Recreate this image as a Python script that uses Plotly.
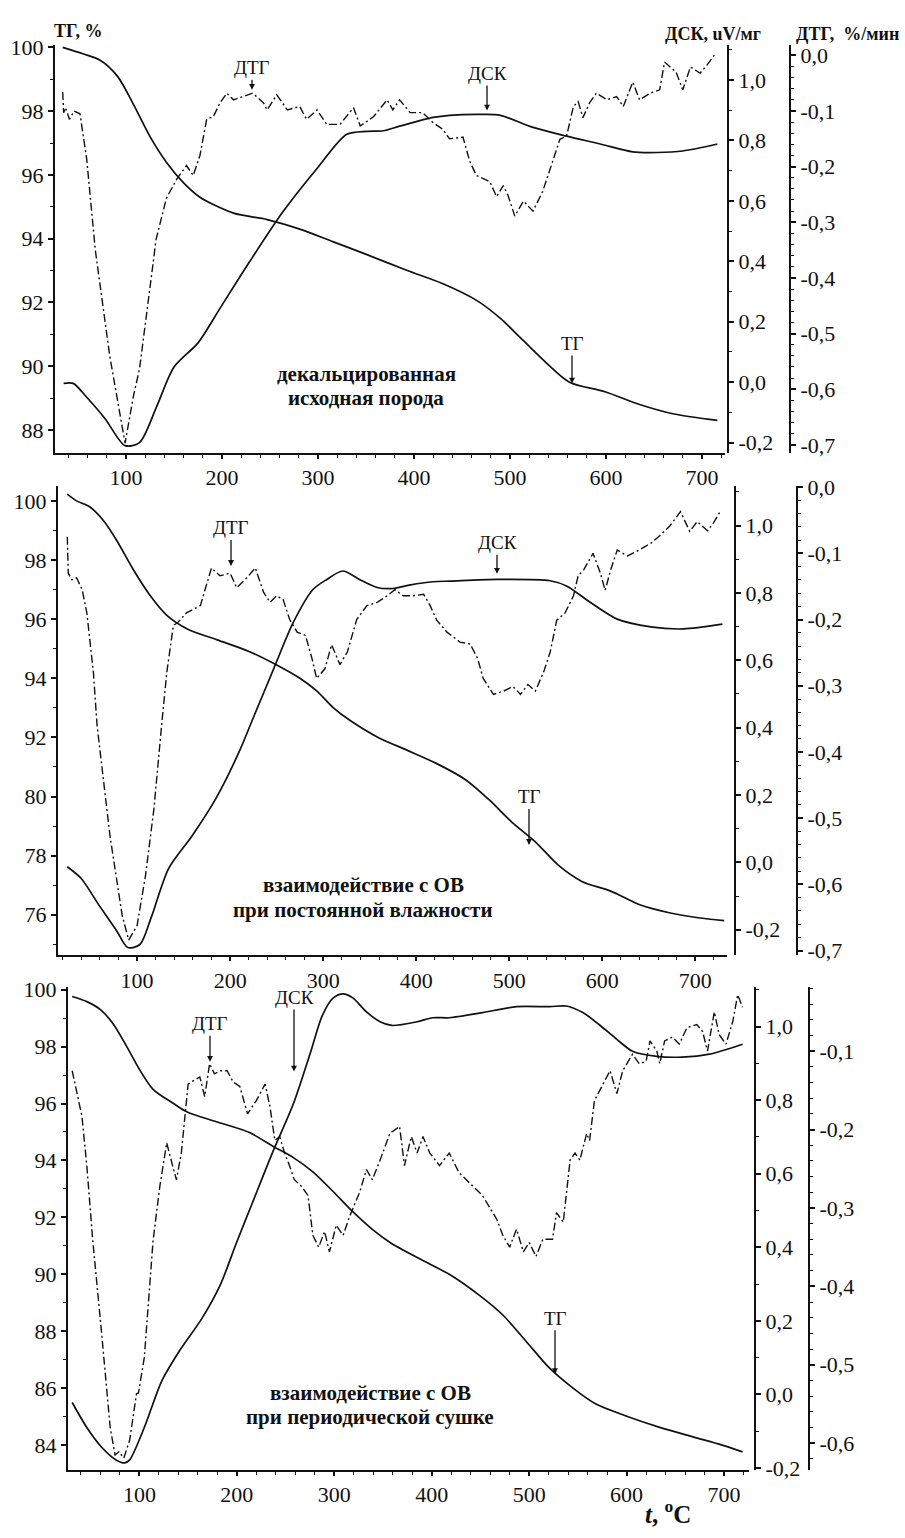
import plotly.graph_objects as go

W, H = 905, 1538

# ---------------- data (temperature, °C) ----------------
x_ticks = [100, 200, 300, 400, 500, 600, 700]
x_ticktext = ["100", "200", "300", "400", "500", "600", "700"]

tg1_ticks = [100, 98, 96, 94, 92, 90, 88]
tg1_ticktext = ["100", "98", "96", "94", "92", "90", "88"]
tg2_ticks = [100, 98, 96, 94, 92, 90, 88, 86]
tg2_ticktext = ["100", "98", "96", "94", "92", "80", "78", "76"]
tg3_ticks = [100, 98, 96, 94, 92, 90, 88, 86, 84]
tg3_ticktext = ["100", "98", "96", "94", "92", "90", "88", "86", "84"]

dsc_ticks = [-0.2, 0.0, 0.2, 0.4, 0.6, 0.8, 1.0]
dsc_ticktext = ["-0,2", "0,0", "0,2", "0,4", "0,6", "0,8", "1,0"]
dtg12_ticks = [0.0, -0.1, -0.2, -0.3, -0.4, -0.5, -0.6, -0.7]
dtg12_ticktext = ["0,0", "-0,1", "-0,2", "-0,3", "-0,4", "-0,5", "-0,6", "-0,7"]
dtg3_ticks = [-0.1, -0.2, -0.3, -0.4, -0.5, -0.6]
dtg3_ticktext = ["-0,1", "-0,2", "-0,3", "-0,4", "-0,5", "-0,6"]

# Panel 1: декальцированная исходная порода
p1_tg_t = [34, 55, 73, 91, 108, 125, 142, 160, 177, 212, 247, 281, 316, 351, 393, 429, 466, 490, 514, 538, 562, 599, 635, 671, 716]
p1_tg = [100.0, 99.8, 99.6, 99.1, 98.2, 97.2, 96.4, 95.75, 95.3, 94.8, 94.6, 94.3, 93.9, 93.5, 93.0, 92.6, 92.05, 91.5, 90.8, 90.1, 89.5, 89.2, 88.8, 88.5, 88.3]
p1_dsc_t = [35, 45, 59, 78, 99, 114, 132, 150, 175, 199, 229, 264, 299, 330, 351, 368, 385, 420, 437, 472, 490, 524, 559, 594, 628, 653, 680, 716]
p1_dsc = [-0.004, -0.004, -0.05, -0.12, -0.21, -0.20, -0.08, 0.05, 0.13, 0.25, 0.40, 0.566, 0.707, 0.82, 0.83, 0.832, 0.847, 0.876, 0.883, 0.886, 0.883, 0.843, 0.814, 0.788, 0.762, 0.76, 0.765, 0.788]
p1_dtg_t = [34, 35, 37, 41, 46, 52, 59, 68, 83, 99, 108, 114, 129, 131, 142, 153, 163, 170, 177, 184, 191, 198, 205, 212, 222, 232, 243, 247, 257, 268, 281, 288, 299, 309, 323, 337, 344, 358, 372, 378, 385, 396, 409, 420, 430, 437, 451, 458, 465, 479, 486, 493, 498, 505, 514, 524, 534, 545, 552, 559, 566, 571, 576, 583, 590, 601, 611, 618, 628, 635, 646, 656, 661, 673, 680, 688, 698, 705, 714]
p1_dtg = [-0.066, -0.103, -0.094, -0.115, -0.100, -0.105, -0.186, -0.35, -0.54, -0.697, -0.61, -0.564, -0.363, -0.333, -0.257, -0.222, -0.198, -0.216, -0.18, -0.115, -0.11, -0.085, -0.068, -0.08, -0.074, -0.068, -0.085, -0.098, -0.071, -0.098, -0.092, -0.115, -0.098, -0.124, -0.124, -0.094, -0.127, -0.11, -0.08, -0.098, -0.08, -0.103, -0.103, -0.121, -0.133, -0.15, -0.147, -0.19, -0.216, -0.227, -0.254, -0.234, -0.252, -0.289, -0.262, -0.28, -0.245, -0.186, -0.151, -0.145, -0.092, -0.083, -0.112, -0.085, -0.068, -0.08, -0.074, -0.092, -0.048, -0.08, -0.068, -0.062, -0.012, -0.03, -0.062, -0.021, -0.032, -0.018, 0.003]

# Panel 2: взаимодействие с ОВ при постоянной влажности
p2_tg_t = [25, 35, 49, 64, 78, 96, 114, 132, 154, 186, 221, 247, 275, 293, 311, 329, 359, 390, 421, 453, 478, 503, 528, 553, 578, 609, 641, 672, 703, 731]
p2_tg = [100.23, 100.0, 99.8, 99.33, 98.67, 97.67, 96.8, 96.13, 95.67, 95.3, 94.9, 94.5, 94.0, 93.57, 93.0, 92.57, 92.0, 91.57, 91.13, 90.57, 89.9, 89.13, 88.47, 87.67, 87.13, 86.8, 86.33, 86.07, 85.9, 85.8]
p2_dsc_t = [25, 40, 59, 78, 90, 103, 115, 134, 159, 184, 209, 225, 247, 268, 289, 304, 321, 339, 358, 375, 394, 418, 437, 487, 544, 562, 587, 616, 652, 687, 729]
p2_dsc = [-0.013, -0.048, -0.127, -0.203, -0.253, -0.244, -0.165, -0.018, 0.078, 0.186, 0.324, 0.43, 0.576, 0.713, 0.81, 0.84, 0.865, 0.84, 0.816, 0.813, 0.824, 0.833, 0.835, 0.84, 0.836, 0.82, 0.772, 0.722, 0.699, 0.693, 0.707]
p2_dtg_t = [25, 26, 30, 35, 41, 46, 53, 57, 71, 84, 91, 100, 109, 118, 127, 132, 139, 144, 153, 160, 168, 173, 180, 189, 200, 207, 218, 227, 236, 243, 250, 257, 264, 272, 281, 288, 293, 302, 309, 318, 326, 336, 347, 358, 369, 377, 386, 397, 408, 415, 422, 433, 447, 458, 466, 472, 483, 494, 504, 512, 520, 528, 537, 544, 551, 560, 569, 574, 580, 590, 598, 603, 609, 616, 627, 637, 652, 662, 673, 684, 694, 702, 713, 719, 727]
p2_dtg = [-0.075, -0.13, -0.14, -0.137, -0.155, -0.19, -0.279, -0.36, -0.528, -0.647, -0.684, -0.662, -0.587, -0.487, -0.35, -0.279, -0.209, -0.204, -0.19, -0.185, -0.179, -0.155, -0.122, -0.134, -0.13, -0.152, -0.137, -0.122, -0.159, -0.174, -0.164, -0.17, -0.2, -0.219, -0.224, -0.259, -0.289, -0.274, -0.238, -0.268, -0.249, -0.2, -0.179, -0.174, -0.164, -0.155, -0.164, -0.164, -0.162, -0.179, -0.201, -0.219, -0.234, -0.237, -0.259, -0.289, -0.313, -0.308, -0.301, -0.313, -0.298, -0.308, -0.279, -0.249, -0.201, -0.19, -0.164, -0.134, -0.125, -0.1, -0.13, -0.156, -0.125, -0.095, -0.104, -0.097, -0.085, -0.073, -0.058, -0.037, -0.067, -0.052, -0.066, -0.055, -0.036]

# Panel 3: взаимодействие с ОВ при периодической сушке
p3_tg_t = [31, 46, 60, 73, 87, 100, 114, 135, 149, 179, 213, 237, 258, 278, 299, 319, 340, 358, 390, 420, 449, 473, 497, 521, 545, 568, 598, 634, 669, 698, 719]
p3_tg = [99.76, 99.58, 99.3, 98.8, 98.0, 97.2, 96.5, 96.0, 95.7, 95.36, 94.98, 94.5, 94.1, 93.6, 92.9, 92.2, 91.55, 91.1, 90.5, 89.96, 89.26, 88.57, 87.64, 86.7, 86.0, 85.45, 85.04, 84.62, 84.28, 84.0, 83.76]
p3_dsc_t = [31, 46, 61, 76, 85, 90, 105, 123, 141, 164, 183, 200, 216, 237, 258, 275, 288, 299, 309, 319, 333, 347, 359, 385, 401, 418, 452, 487, 521, 538, 555, 572, 590, 606, 631, 657, 685, 719]
p3_dsc = [-0.022, -0.09, -0.143, -0.178, -0.186, -0.178, -0.09, 0.037, 0.118, 0.206, 0.298, 0.415, 0.521, 0.66, 0.79, 0.925, 1.032, 1.078, 1.089, 1.078, 1.04, 1.013, 1.003, 1.013, 1.024, 1.024, 1.038, 1.054, 1.054, 1.056, 1.038, 1.005, 0.965, 0.933, 0.919, 0.917, 0.925, 0.952]
p3_dtg_t = [31, 36, 41, 46, 52, 61, 70, 75, 79, 84, 90, 97, 99, 105, 114, 121, 128, 134, 138, 143, 150, 155, 162, 167, 172, 177, 183, 190, 196, 203, 211, 220, 229, 234, 239, 244, 249, 254, 259, 266, 273, 278, 284, 290, 295, 302, 309, 316, 326, 333, 339, 347, 357, 367, 372, 379, 385, 391, 398, 408, 418, 428, 439, 452, 467, 473, 480, 487, 494, 500, 507, 514, 524, 528, 535, 538, 542, 547, 552, 559, 562, 567, 576, 583, 590, 596, 606, 613, 620, 624, 631, 634, 639, 647, 654, 662, 672, 678, 683, 690, 695, 702, 709, 714, 719]
p3_dtg = [-0.125, -0.154, -0.183, -0.246, -0.34, -0.457, -0.58, -0.615, -0.611, -0.619, -0.596, -0.537, -0.536, -0.491, -0.342, -0.272, -0.217, -0.246, -0.264, -0.23, -0.142, -0.138, -0.133, -0.158, -0.116, -0.129, -0.125, -0.125, -0.139, -0.145, -0.18, -0.163, -0.142, -0.171, -0.214, -0.209, -0.23, -0.246, -0.264, -0.272, -0.284, -0.335, -0.35, -0.33, -0.356, -0.322, -0.335, -0.31, -0.28, -0.251, -0.264, -0.239, -0.205, -0.196, -0.246, -0.209, -0.23, -0.209, -0.23, -0.246, -0.23, -0.255, -0.268, -0.284, -0.315, -0.335, -0.35, -0.327, -0.356, -0.344, -0.362, -0.34, -0.34, -0.306, -0.318, -0.28, -0.239, -0.23, -0.239, -0.205, -0.214, -0.163, -0.142, -0.125, -0.154, -0.125, -0.104, -0.116, -0.113, -0.087, -0.1, -0.116, -0.087, -0.082, -0.091, -0.07, -0.066, -0.075, -0.1, -0.05, -0.079, -0.091, -0.062, -0.028, -0.044]

# ---------------- figure ----------------
FONT = "Liberation Serif, Times New Roman, serif"
BLACK = "#111111"


def fx(x):
    return x / W


def fy(y):
    return 1 - y / H


panels = [
    dict(xl=55, xr=725, yt=35, yb=448, dsc_x=728, dtg_x=790,
         xrange=[26, 724], tg_range=[87.29, 100.06], dsc_range=[-0.233, 1.114], dtg_range=[-0.714, 0.0177],
         tg_ticks=tg1_ticks, tg_text=tg1_ticktext, dtg_ticks=dtg12_ticks, dtg_text=dtg12_ticktext,
         t=(p1_tg_t, p1_tg), d=(p1_dsc_t, p1_dsc), g=(p1_dtg_t, p1_dtg)),
    dict(xl=58, xr=727, yt=482, yb=958, dsc_x=735, dtg_x=797,
         xrange=[15, 734], tg_range=[84.63, 100.5], dsc_range=[-0.276, 1.117], dtg_range=[-0.707, 0.0015],
         tg_ticks=tg2_ticks, tg_text=tg2_ticktext, dtg_ticks=dtg12_ticks, dtg_text=dtg12_ticktext,
         t=(p2_tg_t, p2_tg), d=(p2_dsc_t, p2_dsc), g=(p2_dtg_t, p2_dtg)),
    dict(xl=68, xr=749, yt=990, yb=1480, dsc_x=755, dtg_x=809,
         xrange=[26.7, 725.6], tg_range=[83.13, 100.1], dsc_range=[-0.205, 1.108], dtg_range=[-0.634, -0.018],
         tg_ticks=tg3_ticks, tg_text=tg3_ticktext, dtg_ticks=dtg3_ticks, dtg_text=dtg3_ticktext,
         t=(p3_tg_t, p3_tg), d=(p3_dsc_t, p3_dsc), g=(p3_dtg_t, p3_dtg)),
]

tick_font = dict(family=FONT, size=22, color=BLACK)
fig = go.Figure()
layout = {}

for i, p in enumerate(panels):
    n = i + 1
    xname = "x" if n == 1 else f"x{n}"
    xkey = "xaxis" if n == 1 else f"xaxis{n}"
    ia, ib, ic = 3 * i + 1, 3 * i + 2, 3 * i + 3
    yname = lambda k: "y" if k == 1 else f"y{k}"
    ykey = lambda k: "yaxis" if k == 1 else f"yaxis{k}"
    dom_y = [fy(p["yb"]), fy(p["yt"])]

    layout[xkey] = dict(
        domain=[fx(p["xl"]), fx(p["xr"])], range=p["xrange"], anchor=yname(ia),
        showline=True, linecolor=BLACK, linewidth=2, showgrid=False, zeroline=False,
        tickmode="array", tickvals=x_ticks, ticktext=x_ticktext, ticks="outside",
        ticklen=4, tickwidth=1.5, tickcolor=BLACK, tickfont=tick_font,
        minor=dict(dtick=20, tick0=0, ticks="outside", ticklen=3, tickwidth=1.2, tickcolor=BLACK, showgrid=False),
    )
    layout[ykey(ia)] = dict(
        domain=dom_y, range=p["tg_range"], anchor=xname, side="left",
        showline=True, linecolor=BLACK, linewidth=2, showgrid=False, zeroline=False,
        tickmode="array", tickvals=p["tg_ticks"], ticktext=p["tg_text"], ticks="outside",
        ticklen=5, tickwidth=1.5, tickcolor=BLACK, tickfont=tick_font,
        minor=dict(dtick=1, tick0=0, ticks="outside", ticklen=3, tickwidth=1.2, tickcolor=BLACK, showgrid=False),
    )
    layout[ykey(ib)] = dict(
        domain=dom_y, range=p["dsc_range"], overlaying=yname(ia), anchor="free",
        position=fx(p["dsc_x"]), side="right",
        showline=True, linecolor=BLACK, linewidth=2, showgrid=False, zeroline=False,
        tickmode="array", tickvals=dsc_ticks, ticktext=dsc_ticktext, ticks="outside",
        ticklen=5, tickwidth=1.5, tickcolor=BLACK, tickfont=tick_font,
        minor=dict(dtick=0.1, tick0=0, ticks="outside", ticklen=3, tickwidth=1.2, tickcolor=BLACK, showgrid=False),
    )
    layout[ykey(ic)] = dict(
        domain=dom_y, range=p["dtg_range"], overlaying=yname(ia), anchor="free",
        position=fx(p["dtg_x"]), side="right",
        showline=True, linecolor=BLACK, linewidth=2, showgrid=False, zeroline=False,
        tickmode="array", tickvals=p["dtg_ticks"], ticktext=p["dtg_text"], ticks="outside",
        ticklen=5, tickwidth=1.5, tickcolor=BLACK, tickfont=tick_font,
        minor=dict(dtick=0.02, tick0=0, ticks="outside", ticklen=3, tickwidth=1.2, tickcolor=BLACK, showgrid=False),
    )

    fig.add_trace(go.Scatter(x=p["t"][0], y=p["t"][1], xaxis=xname, yaxis=yname(ia), mode="lines",
                             line=dict(color=BLACK, width=1.7, shape="spline", smoothing=0.8),
                             name="ТГ", showlegend=False, hoverinfo="skip"))
    fig.add_trace(go.Scatter(x=p["d"][0], y=p["d"][1], xaxis=xname, yaxis=yname(ib), mode="lines",
                             line=dict(color=BLACK, width=1.7, shape="spline", smoothing=0.8),
                             name="ДСК", showlegend=False, hoverinfo="skip"))
    fig.add_trace(go.Scatter(x=p["g"][0], y=p["g"][1], xaxis=xname, yaxis=yname(ic), mode="lines",
                             line=dict(color=BLACK, width=1.4, dash="8px,3px,2px,3px"),
                             name="ДТГ", showlegend=False, hoverinfo="skip"))

annotations = []


def text_ann(x, y, text, size, bold=False, xanchor="center"):
    annotations.append(dict(
        x=fx(x), y=fy(y), xref="paper", yref="paper", showarrow=False,
        text=f"<b>{text}</b>" if bold else text, xanchor=xanchor, yanchor="middle",
        font=dict(family=FONT, size=size, color=BLACK)))


def arrow_ann(x, y_text, y_tip, text, size=19):
    annotations.append(dict(
        x=fx(x), y=fy(y_tip), xref="paper", yref="paper", showarrow=True,
        ax=0, ay=-(y_tip - y_text), axref="pixel", ayref="pixel",
        text=text, arrowhead=2, arrowsize=0.9, arrowwidth=1.3, arrowcolor=BLACK,
        font=dict(family=FONT, size=size, color=BLACK)))


# axis titles (top)
text_ann(78, 20, "ТГ, %", 18, bold=True)
text_ann(713, 23, "ДСК, uV/мг", 18, bold=True)
text_ann(847, 23, "ДТГ,\u00a0 %/мин", 18, bold=True)

# curve labels with arrows
arrow_ann(252, 58, 80, "ДТГ")
arrow_ann(487, 64, 101, "ДСК")
arrow_ann(572, 338, 378, "ТГ")
arrow_ann(231, 525, 563, "ДТГ")
arrow_ann(497, 540, 571, "ДСК")
arrow_ann(529, 798, 846, "ТГ")
arrow_ann(210, 1028, 1066, "ДТГ")
arrow_ann(294, 1002, 1076, "ДСК")
arrow_ann(555, 1327, 1383, "ТГ")

# panel descriptions
text_ann(366, 368, "декальцированная", 21, bold=True)
text_ann(366, 393, "исходная порода", 21, bold=True)
text_ann(363, 887, "взаимодействие с ОВ", 21, bold=True)
text_ann(363, 912, "при постоянной влажности", 21, bold=True)
text_ann(370, 1402, "взаимодействие с ОВ", 21, bold=True)
text_ann(370, 1426, "при периодической сушке", 21, bold=True)

# x-axis title
annotations.append(dict(
    x=fx(668), y=fy(1523), xref="paper", yref="paper", showarrow=False,
    text="<b><i>t</i>, <sup>o</sup>C</b>", xanchor="center", yanchor="middle",
    font=dict(family=FONT, size=25, color=BLACK)))

layout.update(dict(
    width=W, height=H, margin=dict(l=0, r=0, t=0, b=0, pad=0),
    paper_bgcolor="white", plot_bgcolor="white", showlegend=False,
    font=dict(family=FONT, color=BLACK), annotations=annotations,
))
fig.update_layout(**layout)
fig.write_html("out.html")
